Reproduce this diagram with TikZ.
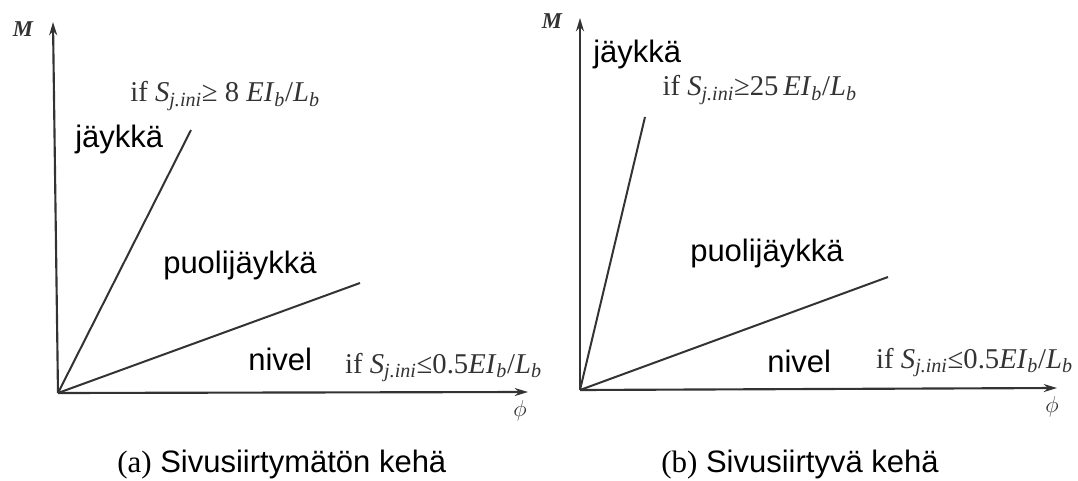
\documentclass[tikz,border=0pt]{standalone}
\usepackage{fontspec}
\setmainfont{Liberation Serif}
\newfontfamily\arialf{Liberation Sans}
\usetikzlibrary{arrows.meta}
\begin{document}
\begin{tikzpicture}[x=0.75pt,y=-0.75pt,
  ax/.style={line width=1.6pt, draw=black!80, -{Stealth[length=10pt,width=6pt]}},
  ln/.style={line width=1.5pt, draw=black!80},
  lab/.style={font=\arialf\fontsize{23.25}{26}\selectfont, anchor=base west, inner sep=0pt},
  cond/.style={font=\fontsize{21.5}{24}\selectfont, text=black!80, anchor=base east, inner sep=0pt},
  axl/.style={font=\bfseries\itshape\fontsize{17}{19}\selectfont, text=black!80, inner sep=0pt},
  phil/.style={font=\fontsize{19}{21}\selectfont, text=black!80, inner sep=0pt},
  capt/.style={font=\arialf\fontsize{23.25}{26}\selectfont, anchor=base west, inner sep=0pt}]
\useasboundingbox (0,0) rectangle (1078,481);
% left panel
\coordinate (O1) at (58,393);
\coordinate (Y1) at (53,22);
\coordinate (X1) at (528,392);
\coordinate (R1) at (191,130);
\coordinate (S1) at (360,283);
\draw[ax] (O1) -- (Y1);
\draw[ax] (O1) -- (X1);
\draw[ln] (O1) -- (R1);
\draw[ln] (O1) -- (S1);
\node[axl] (M1) at (23,29) {M};
\node[phil] (P1) at (520,411) {$\phi$};
\node[lab] (J1) at (75,148) {jäykkä};
\node[lab] (PJ1) at (163,273) {puolijäykkä};
\node[lab] (N1) at (248,370) {nivel};
\node[cond] (C1) at (320,102) {if \textit{S}\textsubscript{\textit{j.ini}}≥ 8 \textit{EI}\textsubscript{\textit{b}}/\textit{L}\textsubscript{\textit{b}}};
\node[cond] (C2) at (542,373) {if \textit{S}\textsubscript{\textit{j.ini}}≤0.5\textit{EI}\textsubscript{\textit{b}}/\textit{L}\textsubscript{\textit{b}}};
\node[capt] (T1) at (117,472) {{\rmfamily (a)} Sivusiirtymätön kehä};
% right panel
\coordinate (O2) at (580,390);
\coordinate (Y2) at (580,18);
\coordinate (X2) at (1057,388);
\coordinate (R2) at (645,117);
\coordinate (S2) at (888,277);
\draw[ax] (O2) -- (Y2);
\draw[ax] (O2) -- (X2);
\draw[ln] (O2) -- (R2);
\draw[ln] (O2) -- (S2);
\node[axl] (M2) at (552,21) {M};
\node[phil] (P2) at (1052,407) {$\phi$};
\node[lab] (J2) at (593,63) {jäykkä};
\node[lab] (PJ2) at (690,262) {puolijäykkä};
\node[lab] (N2) at (767,372) {nivel};
\node[cond] (C3) at (857,96) {if \textit{S}\textsubscript{\textit{j.ini}}≥25\,\textit{EI}\textsubscript{\textit{b}}/\textit{L}\textsubscript{\textit{b}}};
\node[cond] (C4) at (1073,368) {if \textit{S}\textsubscript{\textit{j.ini}}≤0.5\textit{EI}\textsubscript{\textit{b}}/\textit{L}\textsubscript{\textit{b}}};
\node[capt] (T2) at (661,472) {{\rmfamily (b)} Sivusiirtyvä kehä};
\end{tikzpicture}
\end{document}
